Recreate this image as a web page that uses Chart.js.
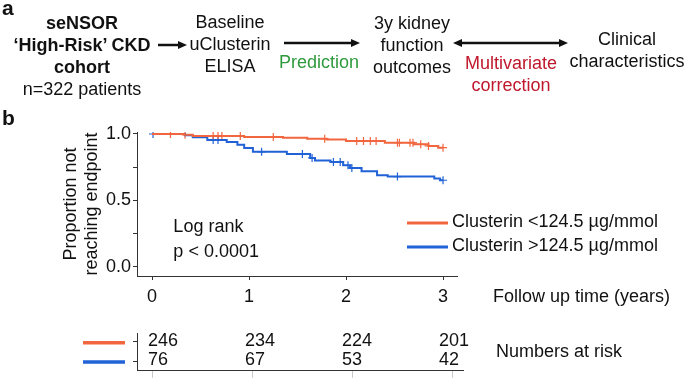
<!DOCTYPE html>
<html>
<head>
<meta charset="utf-8">
<script src="https://cdn.jsdelivr.net/npm/chart.js@4.4.1/dist/chart.umd.min.js"></script>
<style>
  body { margin:0; background:#fff; width:689px; height:381px; overflow:hidden; position:relative;
         font-family:'Liberation Sans', Arial, sans-serif; color:#111; }
  canvas { position:absolute; left:0; }
  #main { top:0; }
  #risk { top:300px; }
  .t { position:absolute; font-size:18px; line-height:22px; text-align:center; transform:translateX(-50%); white-space:nowrap; }
  .b { font-weight:bold; }
  .lab { position:absolute; font-weight:bold; font-size:21px; line-height:21px; }
  svg { position:absolute; left:0; top:0; }
</style>
</head>
<body>
<canvas id="main" width="689" height="381"></canvas>
<canvas id="risk" width="689" height="81"></canvas>

<!-- panel a -->
<div class="lab" style="left:2px;top:-3px">a</div>
<div class="t" style="left:82px;top:12px"><span class="b">seNSOR<br>‘High-Risk’ CKD<br>cohort</span><br>n=322 patients</div>
<div class="t" style="left:230px;top:11px">Baseline<br>uClusterin<br>ELISA</div>
<div class="t" style="left:319px;top:51px;color:#2f9a3c">Prediction</div>
<div class="t" style="left:412px;top:12px">3y kidney<br>function<br>outcomes</div>
<div class="t" style="left:511px;top:52px;color:#c0182c">Multivariate<br>correction</div>
<div class="t" style="left:627px;top:28px">Clinical<br>characteristics</div>
<svg width="689" height="110">
  <g stroke="#111" stroke-width="2.5" fill="#111">
    <line x1="158" y1="45" x2="180" y2="45"/>
    <polygon stroke="none" points="187,45 178,41 178,49"/>
    <line x1="284" y1="43" x2="353" y2="43"/>
    <polygon stroke="none" points="360,43 351,39 351,47"/>
    <line x1="460" y1="43" x2="561" y2="43"/>
    <polygon stroke="none" points="453,43 462,39 462,47"/>
    <polygon stroke="none" points="568,43 559,39 559,47"/>
  </g>
</svg>
<div class="lab" style="left:2px;top:107px">b</div>

<script>
// Kaplan-Meier curves (time in years, proportion not reaching endpoint)
const lowTimes  = [0, 0.33, 0.42, 0.95, 1.35, 1.6, 1.8, 2.0, 2.4, 2.7, 2.85, 2.95, 3.0];
const lowSurv   = [1.0, 0.995, 0.985, 0.978, 0.972, 0.965, 0.958, 0.948, 0.935, 0.922, 0.91, 0.897, 0.897];
const highTimes = [0, 0.34, 0.42, 0.57, 0.77, 0.88, 0.95, 1.04, 1.39, 1.63, 1.68, 1.84, 1.97, 2.04, 2.16, 2.32, 2.43, 2.91, 2.97, 3.0];
const highSurv  = [1.0, 0.99, 0.975, 0.955, 0.94, 0.92, 0.895, 0.866, 0.85, 0.82, 0.80, 0.79, 0.765, 0.745, 0.72, 0.69, 0.68, 0.665, 0.652, 0.652];

// censoring marks
const lowCensor  = [0.19, 0.34, 0.63, 0.68, 0.72, 0.91, 1.25, 1.78, 2.11, 2.18, 2.25, 2.31, 2.53, 2.55, 2.66, 2.69, 2.77, 2.85, 3.0];
const highCensor = [0.01, 0.63, 0.68, 1.13, 1.55, 1.65, 1.87, 1.94, 2.02, 2.06, 2.53, 3.0];

const xTicks = [0, 1, 2, 3];
const yTicks = [0, 0.25, 0.5, 0.75, 1];

// numbers at risk
const riskTimes = [0, 1, 2, 3];
const riskLow  = [246, 234, 224, 201];
const riskHigh = [76, 67, 53, 42];

const seriesNames = ['Clusterin <124.5 µg/mmol', 'Clusterin >124.5 µg/mmol'];

const orange = '#f2663f';
const blue = '#2162d6';
const ink = '#111';
const family = "'Liberation Sans', Arial, sans-serif";
Chart.defaults.font.family = family;

function curve(times, surv) {
  return times.map((t, i) => ({x: t, y: surv[i]}));
}
// y of a censor mark = value of the step curve at that time
function marks(times, surv, cens) {
  return cens.map(t => {
    let v = surv[0];
    for (let i = 0; i < times.length; i++) if (times[i] <= t) v = surv[i];
    return {x: t, y: v};
  });
}

const mainText = {
  id: 'mainText',
  afterDraw(chart) {
    const ctx = chart.ctx;
    const xs = chart.scales.x, ys = chart.scales.y;
    ctx.save();
    ctx.fillStyle = ink;
    ctx.font = '18px ' + family;
    ctx.textBaseline = 'middle';

    // y title, two lines rotated
    ctx.save();
    ctx.translate(71, 204);
    ctx.rotate(-Math.PI / 2);
    ctx.textAlign = 'center';
    ctx.fillText('Proportion not', 0, 0);
    ctx.fillText('reaching endpoint', 0, 21);
    ctx.restore();

    ctx.textAlign = 'left';
    ctx.fillText('Log rank', xs.getPixelForValue(0.22), ys.getPixelForValue(0.3));
    ctx.fillText('p < 0.0001', xs.getPixelForValue(0.22), ys.getPixelForValue(0.115));
    ctx.fillText('Follow up time (years)', 493, 297);

    // legend
    const cols = [orange, blue];
    [222, 246].forEach((y, i) => {
      ctx.strokeStyle = cols[i];
      ctx.lineWidth = 3;
      ctx.beginPath();
      ctx.moveTo(407, y + 1);
      ctx.lineTo(448, y + 1);
      ctx.stroke();
      ctx.fillText(seriesNames[i], 452, y);
    });
    ctx.restore();
  }
};

const mainChart = new Chart(document.getElementById('main'), {
  type: 'line',
  data: {
    datasets: [
      {data: curve(lowTimes, lowSurv), borderColor: orange, borderWidth: 2, stepped: true, pointRadius: 0, fill: false},
      {data: curve(highTimes, highSurv), borderColor: blue, borderWidth: 2, stepped: true, pointRadius: 0, fill: false},
      {type: 'scatter', data: marks(lowTimes, lowSurv, lowCensor), pointStyle: 'cross', pointRadius: 4, borderColor: orange, borderWidth: 1.2},
      {type: 'scatter', data: marks(highTimes, highSurv, highCensor), pointStyle: 'cross', pointRadius: 4, borderColor: blue, borderWidth: 1.2}
    ]
  },
  options: {
    responsive: false,
    animation: false,
    devicePixelRatio: 1,
    layout: {padding: {left: 97, right: 232, top: 132, bottom: 75}},
    scales: {
      x: {
        type: 'linear', min: -0.155, max: 3.144,
        afterBuildTicks: s => { s.ticks = xTicks.map(v => ({value: v})); },
        afterFit: s => { s.height = 30; },
        grid: {drawOnChartArea: false, tickLength: 4, color: '#333'},
        border: {color: '#333', width: 1},
        ticks: {font: {size: 18}, color: ink, padding: 6, maxRotation: 0, callback: v => String(v)}
      },
      y: {
        type: 'linear', min: -0.068, max: 1.015,
        afterBuildTicks: s => { s.ticks = yTicks.map(v => ({value: v})); },
        afterFit: s => { s.width = 40; },
        grid: {drawOnChartArea: false, tickLength: 4, color: '#333'},
        border: {color: '#333', width: 1},
        ticks: {font: {size: 18}, color: ink, padding: 2,
                callback: v => (Math.abs(v * 2 - Math.round(v * 2)) < 1e-9 ? v.toFixed(1) : '')}
      }
    },
    plugins: {legend: {display: false}, tooltip: {enabled: false}}
  },
  plugins: [mainText]
});

const riskText = {
  id: 'riskText',
  afterDraw(chart) {
    const ctx = chart.ctx;
    const ys = chart.scales.y;
    const mx = mainChart.scales.x;
    ctx.save();
    ctx.fillStyle = ink;
    ctx.font = '18px ' + family;
    ctx.textBaseline = 'middle';
    ctx.textAlign = 'left';
    const rows = [[riskLow, 2, orange], [riskHigh, 1, blue]];
    rows.forEach(([vals, r, col]) => {
      const y = ys.getPixelForValue(r);
      vals.forEach((n, i) => ctx.fillText(String(n), mx.getPixelForValue(riskTimes[i]) - 4, y - 1));
      ctx.strokeStyle = col;
      ctx.lineWidth = 3.5;
      ctx.beginPath();
      ctx.moveTo(83, y + 1);
      ctx.lineTo(125, y + 1);
      ctx.stroke();
    });
    ctx.fillText('Numbers at risk', 496, 52);
    ctx.restore();
  }
};

new Chart(document.getElementById('risk'), {
  type: 'scatter',
  data: {datasets: [{data: riskTimes.map(t => ({x: t, y: 1.5})), pointRadius: 0}]},
  options: {
    responsive: false,
    animation: false,
    devicePixelRatio: 1,
    layout: {padding: {left: 131, right: 226, top: 33, bottom: 0}},
    scales: {
      x: {
        type: 'linear', min: -0.15, max: 3.11,
        afterBuildTicks: s => { s.ticks = riskTimes.map(v => ({value: v})); },
        afterFit: s => { s.height = 9; },
        grid: {drawOnChartArea: false, tickLength: 7, color: '#c8c8c8'},
        border: {color: '#333', width: 1},
        ticks: {callback: () => ''}
      },
      y: {
        type: 'linear', min: 0.5, max: 2.45,
        afterBuildTicks: s => { s.ticks = [1, 2].map(v => ({value: v})); },
        afterFit: s => { s.width = 6; },
        grid: {drawOnChartArea: false, tickLength: 4, color: '#333'},
        border: {color: '#333', width: 1},
        ticks: {callback: () => ''}
      }
    },
    plugins: {legend: {display: false}, tooltip: {enabled: false}}
  },
  plugins: [riskText]
});
</script>
</body>
</html>
